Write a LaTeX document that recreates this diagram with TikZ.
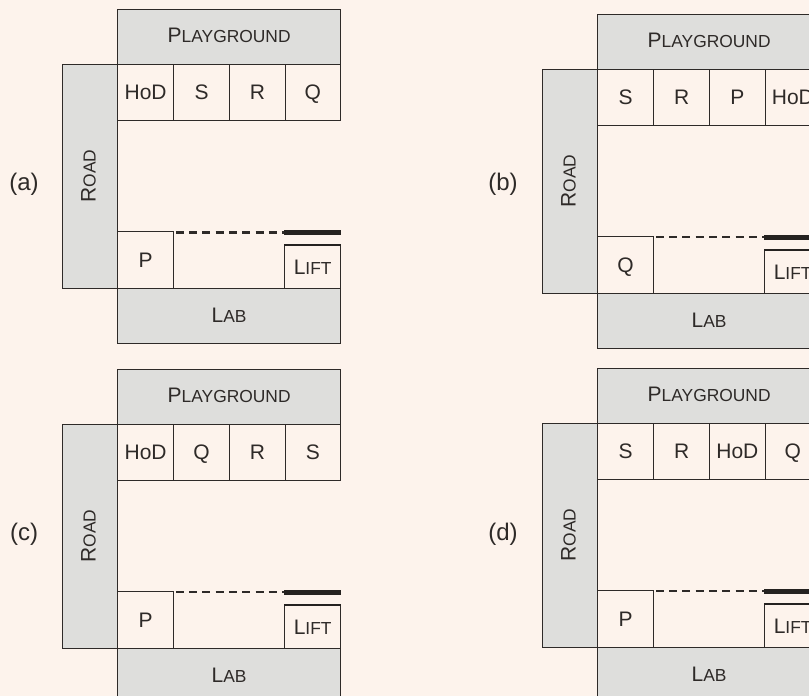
\documentclass[tikz,border=0pt]{standalone}
\usepackage{fontspec}
\setmainfont{Liberation Sans}
\definecolor{paper}{HTML}{FDF3EC}
\definecolor{zone}{HTML}{DEDEDC}
\definecolor{ink}{HTML}{2E2A28}
\newcommand{\capsmall}[2]{{\fontsize{21}{23}\selectfont #1}{\fontsize{17.4}{20}\selectfont #2}}
\tikzset{
  roombox/.style={draw=ink,line width=1.3pt,fill=paper,inner sep=0pt,anchor=north west,
    text=ink,font=\fontsize{21}{24}\selectfont,text depth=0pt,text height=14pt,
    minimum width=#1,minimum height=56pt},
  roombox/.default=56pt,
  zonebox/.style={draw=ink,line width=1.3pt,fill=zone,inner sep=0pt,anchor=north west,
    text=ink,text depth=0pt,text height=14pt},
  tagtext/.style={inner sep=0pt,text=ink,font=\fontsize{24}{28}\selectfont},
  gapline/.style={draw=ink,dash pattern=on 8pt off 5.3pt},
  heavyline/.style={draw=ink!80!black,line width=5pt},
  liftline/.style={draw=ink!80!black,line width=2.6pt}
}
% #1 prefix, #2 x, #3 y, #4 dash width, #5-#8 top rooms, #9 corner room
\newcommand{\wing}[9]{%
\begin{scope}[shift={(#2,#3)}]
  \node[zonebox,minimum width=55.5pt,minimum height=224.2pt] (#1road) at (-55.5,55) {};
  \node[rotate=90,text=ink,inner sep=0pt,yshift=1.5pt] (#1roadtext) at (#1road.center) {\capsmall{R}{OAD}};
  \node[zonebox,minimum width=223pt,minimum height=55pt,text depth=3pt] (#1play) at (0,0) {\capsmall{P}{LAYGROUND}};
  \node[zonebox,minimum width=223pt,minimum height=55pt] (#1lab) at (0,279.2) {\capsmall{L}{AB}};
  \node[roombox=56pt] (#1r1) at (0,55) {#5};
  \node[roombox=56pt] (#1r2) at (56,55) {#6};
  \node[roombox=55.5pt] (#1r3) at (112,55) {#7};
  \node[roombox=55.5pt] (#1r4) at (167.5,55) {#8};
  \node[roombox=56pt,minimum height=56.7pt] (#1c) at (0,222.5) {#9};
  \node[roombox=56pt,minimum height=42.7pt,font=\relax] (#1lift) at (167,236.5) {\capsmall{L}{IFT}};
  \coordinate (#1w) at (167,223.5);
  \coordinate (#1e) at (224,223.5);
  \draw[gapline,line width=#4] ([xshift=1.5pt]#1c.east |- #1w) -- (#1w);
  \draw[heavyline] (#1w) -- (#1e);
  \draw[liftline] (#1lift.north west) -- ++(57,0);
\end{scope}}
\begin{document}
\begin{tikzpicture}[x=1pt,y=-1pt]
  \path[use as bounding box,fill=paper] (0,0) rectangle (809,696);
  \clip (0,0) rectangle (809,696);
  \wing{a}{117}{8.5}{3pt}{HoD}{S}{R}{Q}{P}
  \wing{b}{597}{13.5}{2pt}{S}{R}{P}{HoD}{Q}
  \wing{c}{117}{368.5}{2pt}{HoD}{Q}{R}{S}{P}
  \wing{d}{597}{367.5}{2pt}{S}{R}{HoD}{Q}{P}
  \node[tagtext] (taga) at (24,184) {(a)};
  \node[tagtext] (tagb) at (503,184) {(b)};
  \node[tagtext] (tagc) at (24,534) {(c)};
  \node[tagtext] (tagd) at (503,534) {(d)};
\end{tikzpicture}
\end{document}
